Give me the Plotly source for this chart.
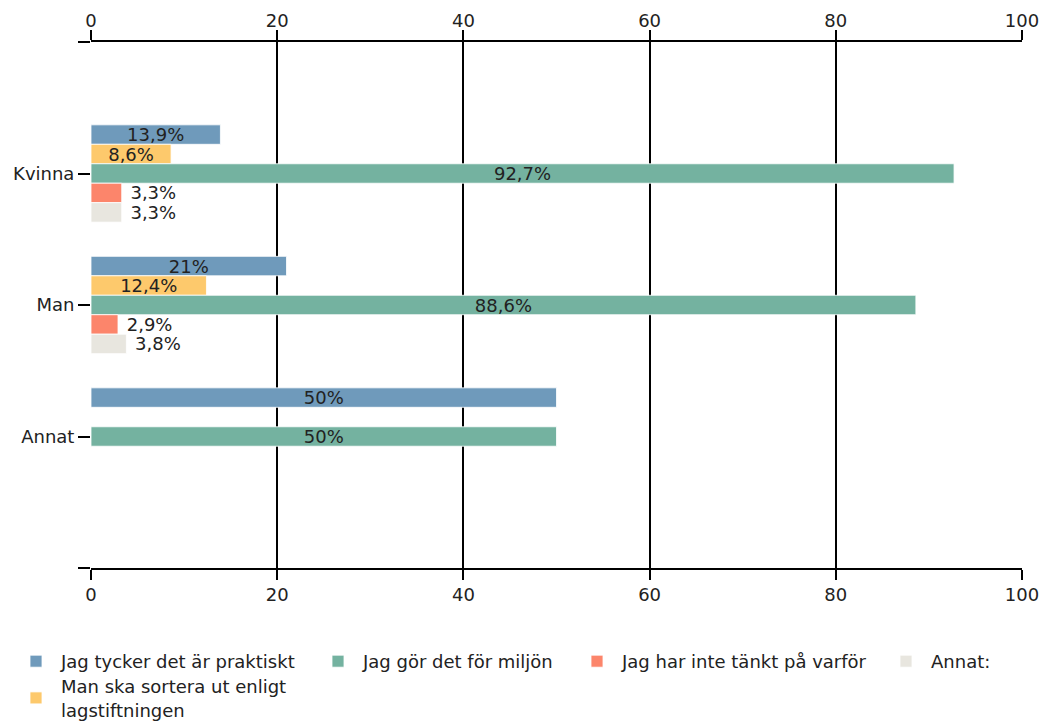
import plotly.graph_objects as go

categories = ["Kvinna", "Man", "Annat"]
series_names = [
    "Jag tycker det är praktiskt",
    "Man ska sortera ut enligt<br>lagstiftningen",
    "Jag gör det för miljön",
    "Jag har inte tänkt på varför",
    "Annat:",
]
values_praktiskt = [13.9, 21.0, 50.0]
values_lag = [8.6, 12.4, None]
values_miljon = [92.7, 88.6, 50.0]
values_inte = [3.3, 2.9, None]
values_annat = [3.3, 3.8, None]
colors = ["#6f9abb", "#fdc96c", "#74b2a0", "#fc856b", "#e8e6df"]
x_ticks = [0, 20, 40, 60, 80, 100]

all_values = [values_praktiskt, values_lag, values_miljon, values_inte, values_annat]
ypos = list(range(len(categories)))

FONT = "DejaVu Sans"
FS = 18
TXT = "#222222"
INSIDE_MIN = 6  # values above this get their label inside the bar

# legend placement (container coords) for each series, in trace order
legend_ids = ["legend", "legend5", "legend2", "legend3", "legend4"]
legend_pos = {
    "legend": (11 / 1048, 1 - 643 / 725),
    "legend2": (313 / 1048, 1 - 643 / 725),
    "legend3": (572 / 1048, 1 - 643 / 725),
    "legend4": (881 / 1048, 1 - 643 / 725),
    "legend5": (11 / 1048, 1 - 668 / 725),
}


def fmt(v):
    if v is None:
        return ""
    s = f"{v:g}".replace(".", ",") + "%"
    return s if v > INSIDE_MIN else "\u00a0" + s


fig = go.Figure()
for name, vals, col, lid in zip(series_names, all_values, colors, legend_ids):
    fig.add_trace(go.Bar(
        orientation="h",
        y=ypos,
        x=vals,
        name=name,
        legend=lid,
        marker=dict(color=col, line=dict(color="rgba(255,255,255,0.8)", width=1)),
        text=[fmt(v) for v in vals],
        textposition=["inside" if (v is not None and v > INSIDE_MIN) else "outside" for v in vals],
        insidetextanchor="middle",
        constraintext="none",
        cliponaxis=False,
        textfont=dict(family=FONT, size=FS, color=TXT),
        insidetextfont=dict(family=FONT, size=FS, color=TXT),
        outsidetextfont=dict(family=FONT, size=FS, color=TXT),
        hoverinfo="skip",
    ))

axis_common = dict(
    range=[0, 100],
    tickvals=x_ticks,
    ticks="outside",
    ticklen=10,
    tickwidth=2,
    tickcolor="black",
    showline=True,
    linecolor="black",
    linewidth=2,
    zeroline=False,
    automargin=False,
    tickfont=dict(family=FONT, size=FS, color=TXT),
)

legend_layout = {}
for lid, (lx, ly) in legend_pos.items():
    legend_layout[lid] = dict(
        orientation="h",
        xref="container",
        yref="container",
        x=lx,
        y=ly,
        xanchor="left",
        yanchor="top",
        itemwidth=40,
        bgcolor="rgba(0,0,0,0)",
        font=dict(family=FONT, size=FS, color=TXT),
    )

fig.update_layout(
    width=1048,
    height=725,
    barmode="group",
    bargap=0.26,
    bargroupgap=0,
    plot_bgcolor="white",
    paper_bgcolor="white",
    margin=dict(l=91, r=26, t=42, b=157),
    font=dict(family=FONT, size=FS, color=TXT),
    xaxis=dict(
        **axis_common,
        side="bottom",
        showgrid=True,
        gridcolor="black",
        gridwidth=2,
        ticklabelstandoff=-1,
    ),
    xaxis2=dict(
        **axis_common,
        side="top",
        overlaying="x",
        matches="x",
        showgrid=False,
        ticklabelstandoff=-4,
    ),
    yaxis=dict(
        range=[3, -1],
        tickvals=[-1, 0, 1, 2, 3],
        ticktext=[""] + categories + [""],
        ticks="outside",
        ticklen=12,
        tickwidth=2,
        tickcolor="black",
        showgrid=False,
        zeroline=False,
        showline=False,
        automargin=False,
        tickfont=dict(family=FONT, size=FS, color=TXT),
    ),
    showlegend=True,
    **legend_layout,
)

# invisible trace to activate the top axis
fig.add_trace(go.Bar(x=[None], y=[None], xaxis="x2", showlegend=False, hoverinfo="skip"))

fig.write_html(
    "out.html",
    config={"displayModeBar": False},
    post_script="document.body.style.margin='0px';",
)
